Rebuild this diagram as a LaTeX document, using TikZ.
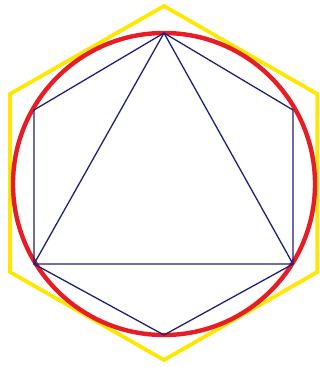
\documentclass[tikz,border=0pt]{standalone}
\definecolor{hexyellow}{RGB}{255,232,0}
\definecolor{circred}{RGB}{232,28,36}
\definecolor{navyline}{RGB}{32,32,120}
\tikzset{
  outerhex/.style={draw=hexyellow,line width=3.8pt,line join=miter},
  circ/.style={draw=circred,line width=4.4pt},
  inner/.style={draw=navyline,line width=1.3pt,line join=round}
}
\begin{document}
\begin{tikzpicture}[x=1pt,y=-1pt]
\useasboundingbox (0,0) rectangle (320,367);
\coordinate (c) at (164,184);
% outer yellow hexagon
\coordinate (y0) at (164,6);
\coordinate (y1) at (317.3,94);
\coordinate (y2) at (317.3,272);
\coordinate (y3) at (164,360);
\coordinate (y4) at (10,272);
\coordinate (y5) at (10,94);
\draw[outerhex] (y0) -- (y1) -- (y2) -- (y3) -- (y4) -- (y5) -- cycle;
% red circle
\draw[circ] (c) circle[radius=151];
% inner hexagon vertices
\coordinate (t) at (164,33);
\coordinate (ur) at (293,110);
\coordinate (lr) at (293,264);
\coordinate (b) at (164,335);
\coordinate (ll) at (34,264);
\coordinate (ul) at (34,110);
\draw[inner] (t) -- (ur) -- (lr) -- (b) -- (ll) -- (ul) -- cycle;
\draw[inner] (t) -- (lr) -- (ll) -- cycle;
\end{tikzpicture}
\end{document}
